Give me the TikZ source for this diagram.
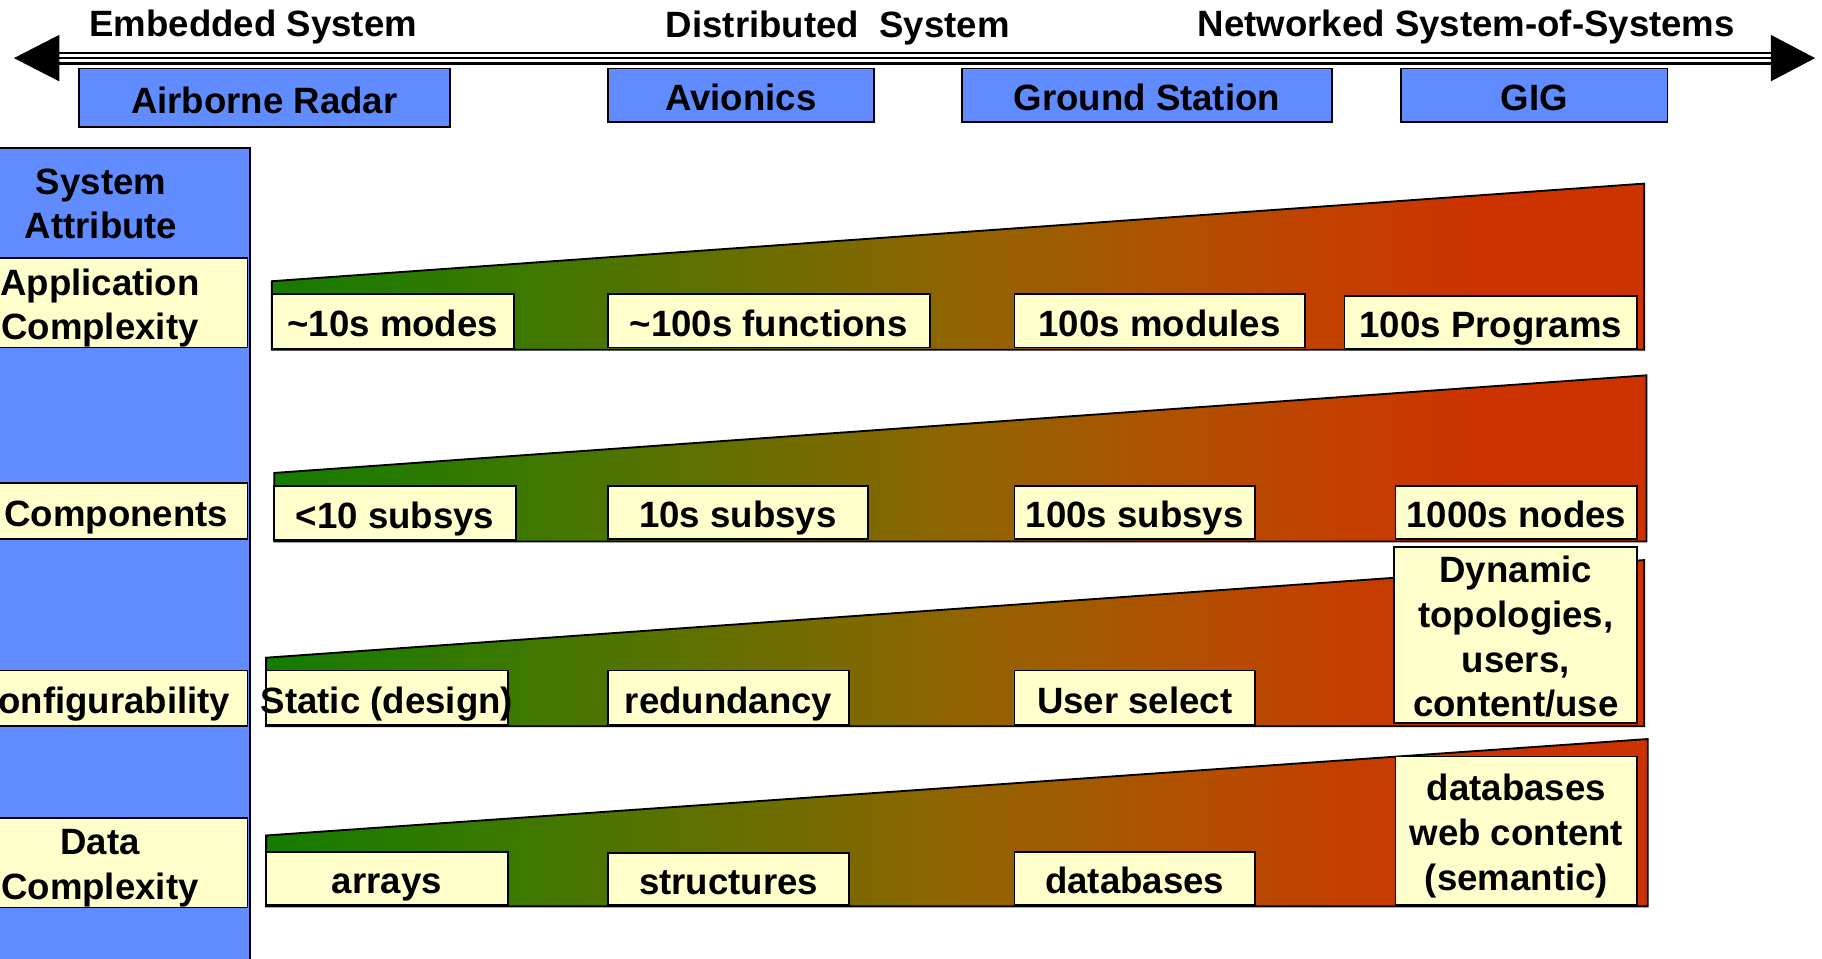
\documentclass[tikz,border=0pt]{standalone}
\usepackage{fontspec}
\setmainfont{Liberation Sans}
\usetikzlibrary{calc}

\definecolor{attrblue}{RGB}{96,140,255}
\definecolor{cellyellow}{RGB}{255,255,204}

% green -> olive -> brick red ramp (useful part lies between 25bp and 75bp)
\pgfdeclarehorizontalshading{rampshade}{100bp}{%
  rgb(0bp)=(0.078,0.486,0);
  rgb(25bp)=(0.078,0.486,0);
  rgb(34bp)=(0.235,0.471,0);
  rgb(42.5bp)=(0.412,0.431,0);
  rgb(50bp)=(0.565,0.392,0);
  rgb(57.5bp)=(0.686,0.322,0);
  rgb(63.5bp)=(0.761,0.251,0);
  rgb(69bp)=(0.8,0.2,0);
  rgb(75bp)=(0.8,0.2,0);
  rgb(100bp)=(0.8,0.2,0)}

% rectangle node given by its corners: style, name, x1, y1, x2, y2, text
\newcommand\rectnode[7]{%
  \node[#1, minimum width={(#5)-(#3)}, minimum height={(#6)-(#4)}]
    (#2) at ({((#3)+(#5))/2},{((#4)+(#6))/2}) {#7};}

\tikzset{
  frame/.style={draw=black, line width=1.6pt, inner sep=0pt, outer sep=0pt},
  onetext/.style={text height=26.6pt, text depth=0pt},
  topbox/.style={frame, onetext, fill=attrblue},
  cell/.style={frame, onetext, fill=cellyellow},
  multicell/.style={frame, fill=cellyellow},
  lines/.style={align=center, inner sep=0pt},
  ramp/.style={shading=rampshade, draw=black, line width=1.6pt, line join=miter},
  caption/.style={anchor=base, inner sep=0pt},
  scaleline/.style={line width=2.3pt},
}

\begin{document}
\begin{tikzpicture}[x=1pt, y=-1pt, font=\bfseries\fontsize{31.5}{38.5}\selectfont]
\useasboundingbox (0,0) rectangle (1568,825);
\clip (0,0) rectangle (1568,825);

% ---- system scale across the top ----
\node[caption] (embedded) at (218,31) {Embedded System};
\node[caption] (distributed) at (721,32.5) {Distributed~~System};
\node[caption] (networked) at (1262,31) {Networked System-of-Systems};

\coordinate (scaleW) at (12,50);
\coordinate (scaleE) at (1562,50);
\foreach \dy in {-4.5,0,4.5}
  \draw[scaleline] ($(scaleW)+(38,\dy)$) -- ($(scaleE)+(-37,\dy)$);
\fill (scaleW) -- ++(39,-20) -- ++(0,40) -- cycle;
\fill (scaleE) -- ++(-38,-20) -- ++(0,40) -- cycle;

\rectnode{topbox}{radar}{68}{59}{387}{109}{Airborne Radar}
\rectnode{topbox}{avionics}{523}{59}{752}{105}{Avionics}
\rectnode{topbox}{ground}{828}{59}{1146}{105}{Ground Station}
\rectnode{topbox}{gig}{1206}{59}{1435}{105}{GIG}

% ---- attribute column ----
\rectnode{frame, fill=attrblue}{attrcol}{-41}{127}{215}{900}{}
\node[lines] (attrhead) at (87,175.5) {System\\Attribute};
\rectnode{multicell, label={[lines, yshift=-4.5pt]center:Application\\Complexity}}{appcell}{-41}{222}{213}{299}{}
\rectnode{cell}{compcell}{-13}{416}{213}{464}{Components}
\rectnode{cell}{confcell}{-39}{577}{213}{625}{Configurability}
\rectnode{multicell, label={[lines, yshift=-4.5pt]center:Data\\Complexity}}{datacell}{-41}{704}{213}{781}{}

% ---- application complexity ramp ----
\shadedraw[ramp] (234,242) -- (1415,158) -- (1415,301) -- (234,301) -- cycle;
\rectnode{cell}{modes}{234}{253}{442}{300}{\textasciitilde10s modes}
\rectnode{cell}{functions}{523}{253}{800}{299}{\textasciitilde100s functions}
\rectnode{cell}{modules}{873}{253}{1123}{299}{100s modules}
\rectnode{cell}{programs}{1157}{255}{1409}{300}{100s Programs}

% ---- components ramp ----
\shadedraw[ramp] (236,407) -- (1417,323) -- (1417,466) -- (236,466) -- cycle;
\rectnode{cell}{subsysA}{236}{418}{444}{465}{<10 subsys}
\rectnode{cell}{subsysB}{523}{418}{747}{464}{10s subsys}
\rectnode{cell}{subsysC}{873}{418}{1080}{464}{100s subsys}
\rectnode{cell}{nodes}{1201}{418}{1409}{464}{1000s nodes}

% ---- configurability ramp ----
\shadedraw[ramp] (229,566) -- (1415,482) -- (1415,625) -- (229,625) -- cycle;
\rectnode{cell}{static}{229}{577}{437}{624}{\makebox[0pt][c]{Static (design)}}
\rectnode{cell}{redundancy}{523}{577}{731}{624}{redundancy}
\rectnode{cell}{userselect}{873}{577}{1080}{624}{User select}
\rectnode{multicell, label={[lines, yshift=-1.5pt]center:Dynamic\\topologies,\\users,\\content/use}}{dynamic}{1200}{471}{1409}{622}{}

% ---- data complexity ramp ----
\shadedraw[ramp] (229,719) -- (1418,636) -- (1418,780) -- (229,780) -- cycle;
\rectnode{cell}{arrays}{229}{733}{437}{779}{arrays}
\rectnode{cell}{structures}{523}{734}{731}{779}{structures}
\rectnode{cell}{databases}{873}{733}{1080}{779}{databases}
\rectnode{multicell, label={[lines, yshift=-4.5pt]center:databases\\web content\\(semantic)}}{semantic}{1201}{651}{1409}{779}{}
\end{tikzpicture}
\end{document}
